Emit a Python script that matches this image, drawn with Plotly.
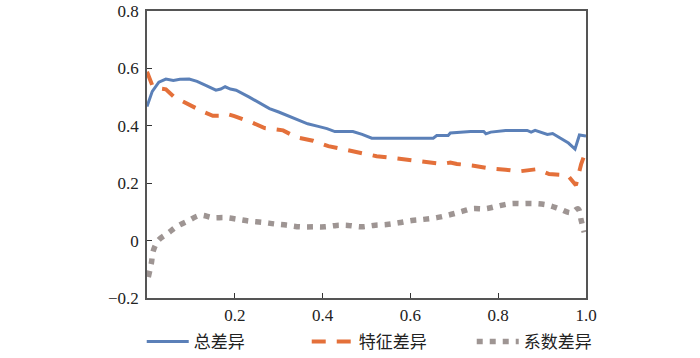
import plotly.graph_objects as go

# ---- data ----
total_x = [0.0, 0.012, 0.027, 0.043, 0.06, 0.075, 0.096, 0.114, 0.135, 0.157, 0.168, 0.178, 0.19, 0.203,
           0.233, 0.255, 0.279, 0.3, 0.32, 0.34, 0.366, 0.39, 0.41, 0.428, 0.469, 0.49, 0.512, 0.55, 0.6,
           0.652, 0.66, 0.686, 0.691, 0.737, 0.767, 0.772, 0.783, 0.817, 0.866, 0.875, 0.884, 0.912, 0.924,
           0.943, 0.96, 0.975, 0.985, 1.0]
total_y = [0.467, 0.52, 0.552, 0.563, 0.558, 0.562, 0.563, 0.555, 0.54, 0.524, 0.528, 0.536, 0.528, 0.524,
           0.50, 0.48, 0.46, 0.448, 0.436, 0.425, 0.407, 0.398, 0.39, 0.38, 0.38, 0.37, 0.357, 0.357, 0.357,
           0.357, 0.366, 0.366, 0.375, 0.38, 0.38, 0.372, 0.378, 0.384, 0.384, 0.378, 0.384, 0.37, 0.373,
           0.357, 0.34, 0.319, 0.368, 0.364]

feat_x = [0.0, 0.012, 0.028, 0.043, 0.062, 0.08, 0.10, 0.129, 0.15, 0.165, 0.18, 0.199, 0.237, 0.268, 0.29,
          0.31, 0.34, 0.378, 0.413, 0.451, 0.485, 0.523, 0.558, 0.596, 0.634, 0.672, 0.691, 0.706, 0.744,
          0.779, 0.817, 0.847, 0.889, 0.916, 0.958, 0.977, 0.989, 1.0]
feat_y = [0.588, 0.541, 0.53, 0.527, 0.50, 0.485, 0.471, 0.448, 0.435, 0.435, 0.442, 0.434, 0.413, 0.392,
          0.388, 0.384, 0.36, 0.348, 0.329, 0.317, 0.308, 0.294, 0.288, 0.282, 0.273, 0.267, 0.272, 0.267,
          0.261, 0.252, 0.247, 0.241, 0.249, 0.232, 0.228, 0.193, 0.267, 0.313]

coef_x = [0.003, 0.01, 0.014, 0.026, 0.049, 0.069, 0.095, 0.121, 0.149, 0.178, 0.207, 0.233, 0.262, 0.291,
          0.317, 0.348, 0.38, 0.405, 0.432, 0.458, 0.489, 0.516, 0.546, 0.573, 0.603, 0.63, 0.66, 0.687,
          0.714, 0.741, 0.771, 0.798, 0.828, 0.855, 0.882, 0.912, 0.939, 0.966, 0.982, 0.989, 0.996]
coef_y = [-0.127, -0.078, -0.037, 0.001, 0.027, 0.05, 0.07, 0.088, 0.08, 0.08, 0.074, 0.068, 0.064, 0.058,
          0.054, 0.048, 0.048, 0.048, 0.053, 0.053, 0.048, 0.053, 0.056, 0.062, 0.07, 0.074, 0.08, 0.089,
          0.1, 0.111, 0.111, 0.12, 0.129, 0.129, 0.129, 0.124, 0.111, 0.097, 0.111, 0.071, 0.029]

series_names = ["总差异", "特征差异", "系数差异"]
x_tickvals = [0.2, 0.4, 0.6, 0.8, 1.0]
x_ticktext = ["0.2", "0.4", "0.6", "0.8", "1.0"]
y_tickvals = [-0.2, 0, 0.2, 0.4, 0.6, 0.8]
y_ticktext = ["\u22120.2", "0", "0.2", "0.4", "0.6", "0.8"]

fig = go.Figure()
fig.add_trace(go.Scatter(x=total_x, y=total_y, mode="lines", name=series_names[0],
                         line=dict(color="#5b80b8", width=3)))
fig.add_trace(go.Scatter(x=feat_x, y=feat_y, mode="lines", name=series_names[1],
                         line=dict(color="#e4703a", width=4, dash="14px,11px")))
fig.add_trace(go.Scatter(x=coef_x, y=coef_y, mode="lines", name=series_names[2],
                         line=dict(color="#9e9593", width=5.5, dash="6px,7px", shape="spline")))

axis_font = dict(family="Liberation Serif, Times New Roman, serif", size=17, color="#222")
fig.update_layout(
    width=700, height=358,
    margin=dict(l=147, r=114, t=11, b=60, autoexpand=False),
    paper_bgcolor="white", plot_bgcolor="white",
    showlegend=True,
    legend=dict(orientation="h", xref="paper", x=-0.012, xanchor="left",
                yref="paper", y=-0.153, yanchor="middle",
                itemwidth=42, entrywidth=108, entrywidthmode="pixels",
                font=dict(family="Noto Sans CJK SC, sans-serif", size=17, color="#222"),
                bgcolor="rgba(0,0,0,0)"),
    xaxis=dict(range=[0, 1], tickvals=x_tickvals, ticktext=x_ticktext, ticks="inside", ticklen=5,
               tickcolor="#333", showline=True, linecolor="#555", linewidth=1.5, mirror=True,
               showgrid=False, zeroline=False, tickfont=axis_font, automargin=False,
               ticklabelstandoff=1, ticklabeloverflow="allow"),
    yaxis=dict(range=[-0.2, 0.8], tickvals=y_tickvals, ticktext=y_ticktext, ticks="inside", ticklen=5,
               tickcolor="#333", showline=True, linecolor="#555", linewidth=1.5, mirror=True,
               showgrid=False, zeroline=False, tickfont=axis_font, automargin=False,
               ticklabelstandoff=3, ticklabeloverflow="allow"),
)
fig.write_html("out.html", config={"displayModeBar": False},
               post_script="document.body.style.margin='0px';")
